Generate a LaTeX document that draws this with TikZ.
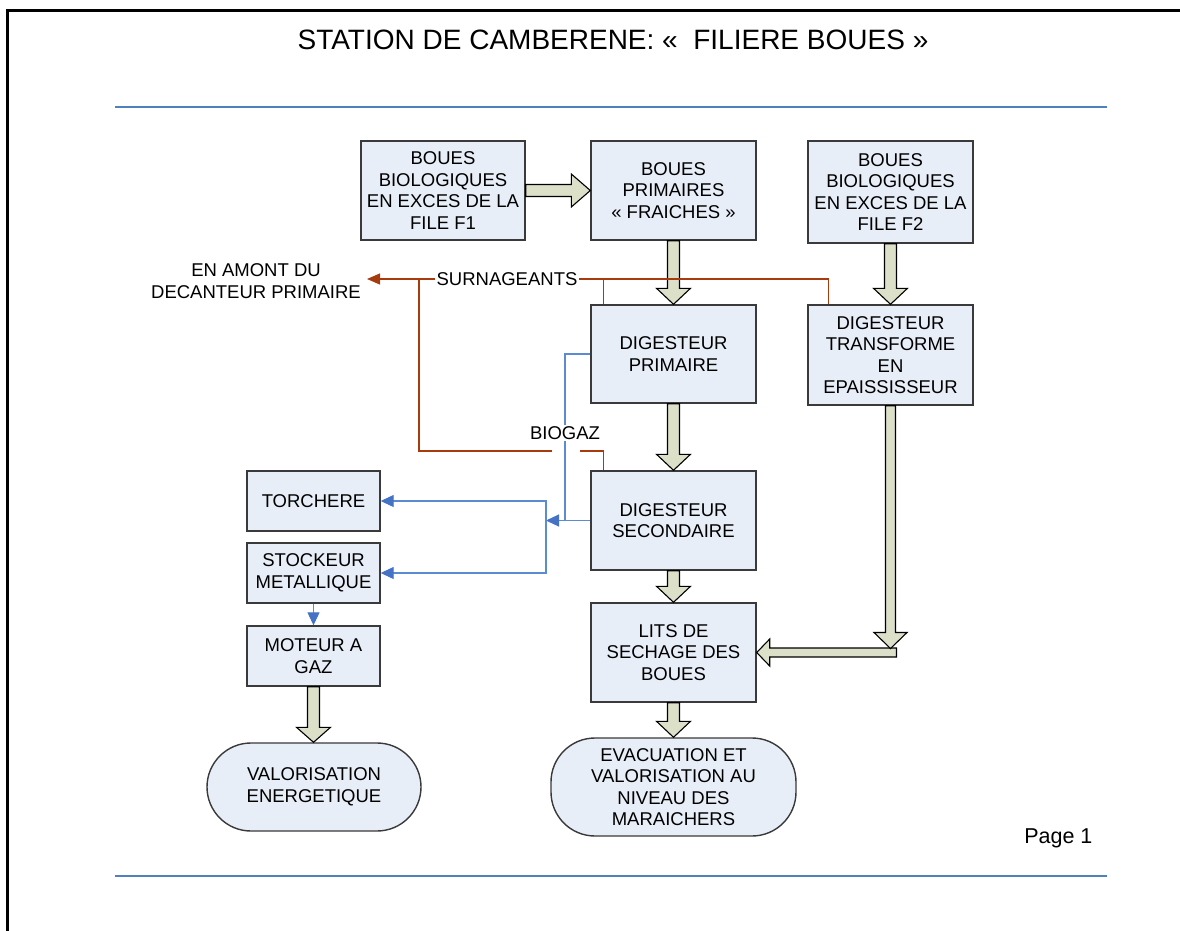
\documentclass[tikz,border=0pt]{standalone}
\usepackage{fontspec}
\setmainfont{Liberation Sans}
\usetikzlibrary{arrows.meta,calc}
\definecolor{boxfill}{HTML}{E8EEF8}
\definecolor{boxline}{HTML}{3A3A3A}
\definecolor{fatfill}{HTML}{DCE0C8}
\definecolor{redline}{HTML}{A63C0E}
\definecolor{blueline}{HTML}{5B8BD0}
\definecolor{bluetip}{HTML}{4472C4}
\definecolor{sepblue}{HTML}{4F81BD}
% vertical fat arrow: #1 start, #2 tip, #3 shaft half width, #4 head half width, #5 head length
\newcommand\fatdown[5]{\draw[fatarrow] let \p1=(#1), \p2=(#2) in
  ({\x1-#3pt},\y1) -- ({\x1-#3pt},{\y2+#5pt}) -- ({\x1-#4pt},{\y2+#5pt}) -- (\x1,\y2)
  -- ({\x1+#4pt},{\y2+#5pt}) -- ({\x1+#3pt},{\y2+#5pt}) -- ({\x1+#3pt},\y1) -- cycle;}
% horizontal fat arrow to the right
\newcommand\fatright[5]{\draw[fatarrow] let \p1=(#1), \p2=(#2) in
  (\x1,{\y1+#3pt}) -- ({\x2-#5pt},{\y1+#3pt}) -- ({\x2-#5pt},{\y1+#4pt}) -- (\x2,\y1)
  -- ({\x2-#5pt},{\y1-#4pt}) -- ({\x2-#5pt},{\y1-#3pt}) -- (\x1,{\y1-#3pt}) -- cycle;}
% horizontal fat arrow to the left
\newcommand\fatleft[5]{\draw[fatarrow] let \p1=(#1), \p2=(#2) in
  (\x1,{\y1+#3pt}) -- ({\x2+#5pt},{\y1+#3pt}) -- ({\x2+#5pt},{\y1+#4pt}) -- (\x2,\y1)
  -- ({\x2+#5pt},{\y1-#4pt}) -- ({\x2+#5pt},{\y1-#3pt}) -- (\x1,{\y1-#3pt}) -- cycle;}
\begin{document}
\begin{tikzpicture}[x=1pt,y=-1pt,
  boxtext/.style={font=\fontsize{18.5}{21.5}\selectfont},
  box/.style={boxtext,draw=boxline,line width=1.4pt,fill=boxfill,align=center,inner sep=0pt},
  term/.style={box,rounded corners=44pt},
  lbl/.style={boxtext,inner sep=1.5pt,fill=white},
  redc/.style={draw=redline,line width=1.1pt},
  redarr/.style={redc,-{Triangle[length=13pt,width=11pt]}},
  bluec/.style={draw=blueline,line width=1.1pt},
  bluearr/.style={bluec,-{Triangle[length=13pt,width=12pt,color=bluetip]}},
  fatarrow/.style={draw=black,line width=1.1pt,fill=fatfill,line join=miter},
  sep/.style={draw=sepblue,line width=2.5pt}]
\useasboundingbox (0,0) rectangle (1180,931);
\fill[white] (0,0) rectangle (1180,931);
% page frame
\draw[line width=3pt] (7.5,931) -- (7.5,10.5) -- (1180,10.5);
\node[font=\fontsize{28}{32}\selectfont] (title) at (613,40) {STATION DE CAMBERENE: «\ \ FILIERE BOUES »};
\coordinate (sepAl) at (115,107); \coordinate (sepAr) at (1107,107);
\coordinate (sepBl) at (115,876); \coordinate (sepBr) at (1107,876);
\draw[sep] (sepAl) -- (sepAr);
\draw[sep] (sepBl) -- (sepBr);
\node[font=\fontsize{21.5}{25}\selectfont,anchor=east] (page) at (1096,838) {Page 1};

% boxes
\node[box,minimum width=164pt,minimum height=99pt] (B1) at (443,190.5) {BOUES\\BIOLOGIQUES\\EN EXCES DE LA\\FILE F1};
\node[box,minimum width=165pt,minimum height=99pt] (B2) at (673.5,190.5) {BOUES\\PRIMAIRES\\« FRAICHES »};
\node[box,minimum width=165pt,minimum height=102pt] (B3) at (890.5,192) {BOUES\\BIOLOGIQUES\\EN EXCES DE LA\\FILE F2};
\node[box,minimum width=165pt,minimum height=98pt] (D1) at (673.5,354) {DIGESTEUR\\PRIMAIRE};
\node[box,minimum width=165pt,minimum height=100pt] (D2) at (890.5,355) {DIGESTEUR\\TRANSFORME\\EN\\EPAISSISSEUR};
\node[box,minimum width=165pt,minimum height=99pt] (DS) at (673.5,520.5) {DIGESTEUR\\SECONDAIRE};
\node[box,minimum width=165pt,minimum height=99pt] (L) at (673.5,652.5) {LITS DE\\SECHAGE DES\\BOUES};
\node[box,minimum width=133pt,minimum height=60pt] (T) at (313.5,501) {TORCHERE};
\node[box,minimum width=133pt,minimum height=60pt] (S) at (313.5,573) {STOCKEUR\\METALLIQUE};
\node[box,minimum width=133pt,minimum height=60pt] (M) at (313.5,656) {MOTEUR A\\GAZ};
\node[term,minimum width=214pt,minimum height=88pt] (V) at (314,787) {VALORISATION\\ENERGETIQUE};
\node[term,minimum width=245pt,minimum height=98pt] (E) at (673.5,787) {EVACUATION ET\\VALORISATION AU\\NIVEAU DES\\MARAICHERS};

% fat arrows
\fatright{B1.east}{B2.west}{6}{16.5}{19}
\fatdown{B2.south}{D1.north}{6}{17}{16}
\fatdown{D1.south}{DS.north}{6}{17}{16}
\fatdown{DS.south}{L.north}{6}{17}{16}
\fatdown{L.south}{E.north}{6}{17}{16}
\fatdown{B3.south}{D2.north}{6}{17}{16}
\fatdown{M.south}{V.north}{6}{17}{15}
\coordinate (elbow) at (D2.south |- L.east);
\fatleft{$(elbow)+(6,0)$}{L.east}{4.5}{13.5}{13}
\fatdown{D2.south}{$(elbow)+(0,-4)$}{5}{16.5}{16}

% surnageants (red)
\node[boxtext,align=center] (amont) at (256,281) {EN AMONT DU\\DECANTEUR PRIMAIRE};
\coordinate (rD1) at ($(D1.north west)+(13,0)$);
\coordinate (rD2) at ($(D2.north west)+(21,0)$);
\coordinate (rDS) at ($(DS.north west)+(13,0)$);
\coordinate (rTip) at (367,279);
\coordinate (rLoopA) at (419,279);
\coordinate (rLoopB) at (419,451);
\coordinate (rGapL) at (552,451);
\coordinate (rGapR) at (580,451);
\draw[redarr] (rD2) -- (rD2 |- rTip) -- (rTip);
\draw[redc] (rD1) -- (rD1 |- rTip);
\draw[redc] (rDS) -- (rDS |- rGapR) -- (rGapR);
\draw[redc] (rGapL) -- (rLoopB) -- (rLoopA);
\node[lbl] (surn) at (507,279) {SURNAGEANTS};

% biogaz (blue)
\coordinate (bV) at (565,0);
\coordinate (bJ) at (546,0);
\draw[bluec] (D1.west) -- (D1.west -| bV) -- (bV |- DS.west);
\node[lbl] (biogaz) at (565,433) {BIOGAZ};
\draw[bluearr] (DS.west) -- (bJ |- DS.west);
\draw[bluearr] (bJ |- DS.west) |- (T.east);
\draw[bluearr] (bJ |- DS.west) |- (S.east);
\draw[bluearr] (S.south) -- (M.north);
\end{tikzpicture}
\end{document}
